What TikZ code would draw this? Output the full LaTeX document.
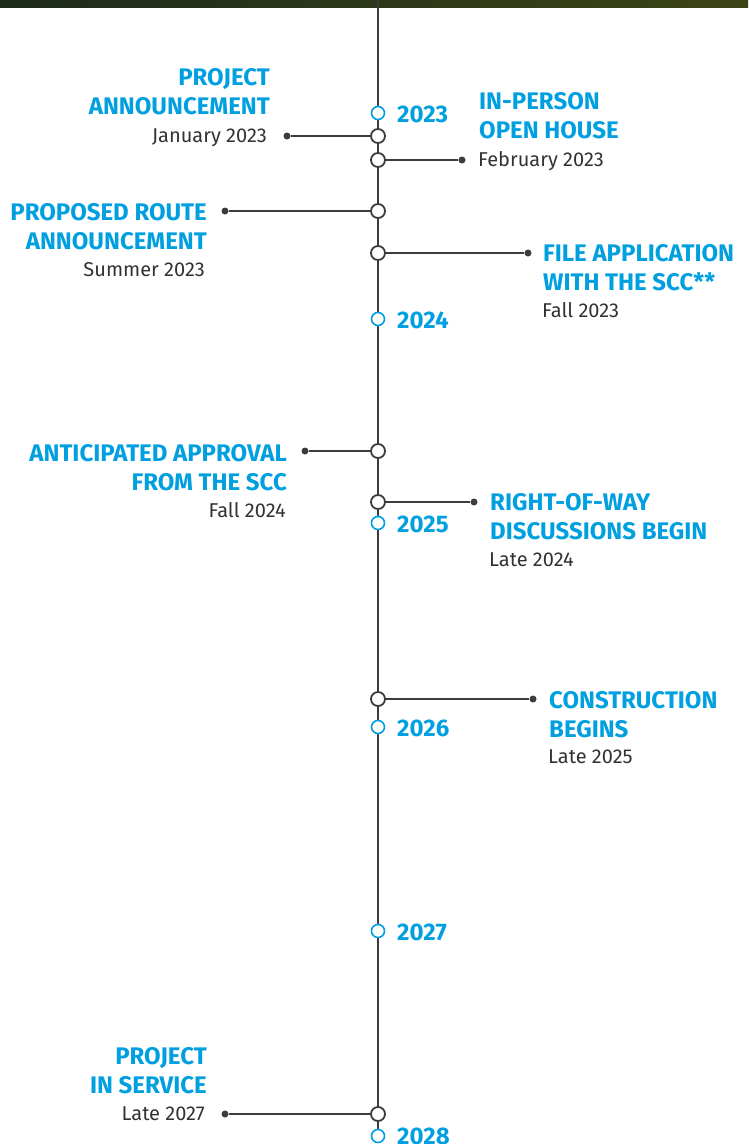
\documentclass[tikz,border=0pt]{standalone}
\usepackage{fontspec}
\setmainfont{Fira Sans}
\newfontfamily\headfont{Fira Sans}
\usetikzlibrary{positioning}
\definecolor{sccblue}{RGB}{0,160,224}
\definecolor{linegray}{RGB}{60,60,60}
\definecolor{textgray}{RGB}{50,50,50}
\definecolor{photodark}{RGB}{30,42,28}
\definecolor{photoolive}{RGB}{60,68,22}

\begin{document}
\begin{tikzpicture}[x=1pt,y=-1pt,
    spine/.style={draw=linegray, line width=2pt},
    link/.style={draw=linegray, line width=2pt},
    event/.style={circle, draw=linegray, fill=white, line width=1.8pt, inner sep=0pt, minimum size=14pt},
    yearmark/.style={circle, draw=sccblue, fill=white, line width=1.6pt, inner sep=0pt, minimum size=13pt},
    pin/.style={circle, fill=linegray, inner sep=0pt, minimum size=7pt},
    title/.style={font=\headfont\bfseries\fontsize{24}{28.5}\selectfont, text=sccblue, inner sep=0pt},
    date/.style={font=\headfont\fontsize{20}{24}\selectfont, text=textgray, inner sep=0pt},
    year/.style={font=\headfont\bfseries\fontsize{24}{28}\selectfont, text=sccblue, inner sep=0pt, anchor=base west}]
      \useasboundingbox (0,0) rectangle (748,1144);

      % photo strip
      \shade[left color=photodark, right color=photoolive] (0,0) rectangle (748,7);

      % spine
      \coordinate (top) at (378,0);
      \coordinate (bottom) at (378,1135);
      \draw[spine] (top) -- (bottom);

      % year marks
      \node[yearmark] (m2023) at (378,113) {};
      \node[year] (y2023) at (397,122) {2023};
      \node[yearmark] (m2024) at (378,319) {};
      \node[year] (y2024) at (397,328) {2024};
      \node[yearmark] (m2025) at (378,523) {};
      \node[year] (y2025) at (397,532) {2025};
      \node[yearmark] (m2026) at (378,727) {};
      \node[year] (y2026) at (397,736) {2026};
      \node[yearmark] (m2027) at (378,931) {};
      \node[year] (y2027) at (397,940) {2027};
      \node[yearmark] (m2028) at (378,1136) {};
      \node[year] (y2028) at (397,1144) {2028};

      % project announcement
      \node[event] (announce) at (378,136) {};
      \node[pin] (announcepin) at (287,136) {};
      \draw[link] (announcepin) -- (announce);
      \node[title, align=right, anchor=base east] (announcetitle) at (270,114) {PROJECT\\ANNOUNCEMENT};
      \node[date, anchor=base east] (announcedate) at (267,142) {January 2023};

      % open house
      \node[event] (openhouse) at (378,160) {};
      \node[pin] (openhousepin) at (462,160) {};
      \draw[link] (openhouse) -- (openhousepin);
      \node[title, align=left, anchor=base west] (openhousetitle) at (479,138) {IN-PERSON\\OPEN HOUSE};
      \node[date, anchor=base west] (openhousedate) at (478,166) {February 2023};

      % proposed route
      \node[event] (route) at (378,211) {};
      \node[pin] (routepin) at (225,211) {};
      \draw[link] (routepin) -- (route);
      \node[title, align=right, anchor=base east] (routetitle) at (207,249) {PROPOSED ROUTE\\ANNOUNCEMENT};
      \node[date, anchor=base east] (routedate) at (205,276) {Summer 2023};

      % file application
      \node[event] (filing) at (378,253) {};
      \node[pin] (filingpin) at (528,253) {};
      \draw[link] (filing) -- (filingpin);
      \node[title, align=left, anchor=base west] (filingtitle) at (543,290) {FILE APPLICATION\\WITH THE SCC**};
      \node[date, anchor=base west] (filingdate) at (542,317) {Fall 2023};

      % approval
      \node[event] (approval) at (378,451) {};
      \node[pin] (approvalpin) at (305,451) {};
      \draw[link] (approvalpin) -- (approval);
      \node[title, align=right, anchor=base east] (approvaltitle) at (287,490) {ANTICIPATED APPROVAL\\FROM THE SCC};
      \node[date, anchor=base east] (approvaldate) at (286,517) {Fall 2024};

      % right-of-way
      \node[event] (row) at (378,502) {};
      \node[pin] (rowpin) at (474,502) {};
      \draw[link] (row) -- (rowpin);
      \node[title, align=left, anchor=base west] (rowtitle) at (490,539) {RIGHT-OF-WAY\\DISCUSSIONS BEGIN};
      \node[date, anchor=base west] (rowdate) at (489,566) {Late 2024};

      % construction
      \node[event] (build) at (378,699) {};
      \node[pin] (buildpin) at (533,699) {};
      \draw[link] (build) -- (buildpin);
      \node[title, align=left, anchor=base west] (buildtitle) at (549,737) {CONSTRUCTION\\BEGINS};
      \node[date, anchor=base west] (builddate) at (548,763) {Late 2025};

      % in service
      \node[event] (service) at (378,1114) {};
      \node[pin] (servicepin) at (225,1114) {};
      \draw[link] (servicepin) -- (service);
      \node[title, align=right, anchor=base east] (servicetitle) at (207,1093) {PROJECT\\IN SERVICE};
      \node[date, anchor=base east] (servicedate) at (205,1120) {Late 2027};
\end{tikzpicture}
\end{document}
